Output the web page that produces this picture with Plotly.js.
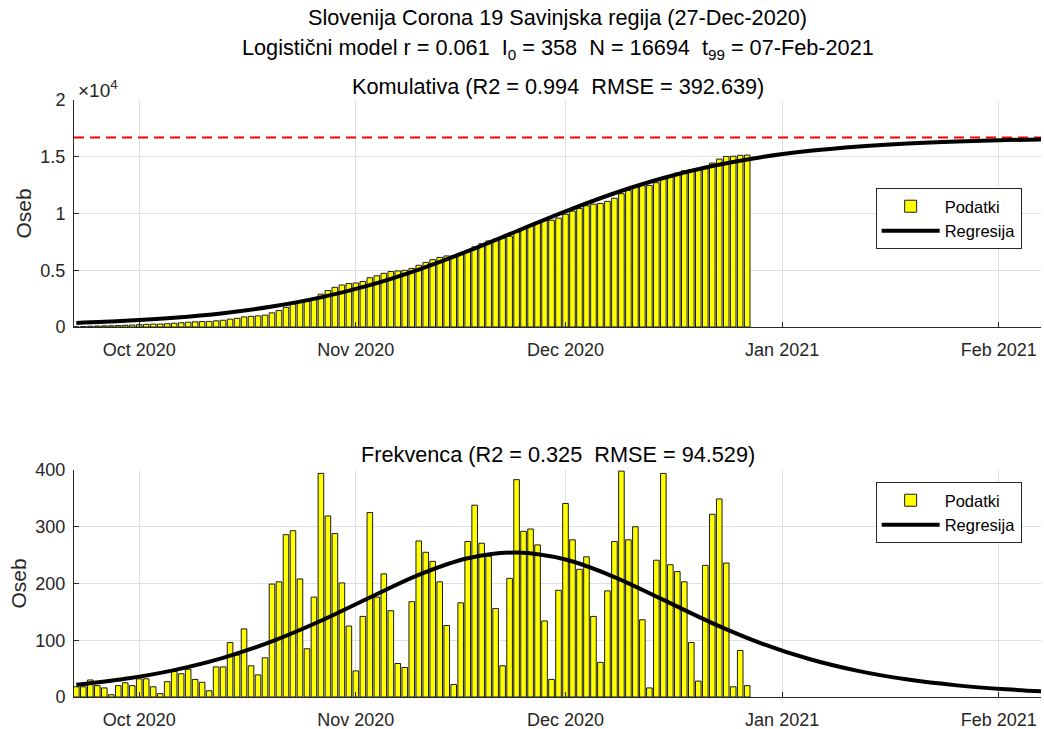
<!DOCTYPE html>
<html>
<head>
<meta charset="utf-8">
<script src="https://cdn.plot.ly/plotly-3.0.1.min.js"></script>
<style>
html,body{margin:0;padding:0;background:#fff;}
#chart{width:1044px;height:729px;}
</style>
</head>
<body>
<div id="chart"></div>
<script>
// ---------- DATA ----------
const startDate = '2020-09-22';
// daily new cases (Frekvenca), Sep 22 .. Dec 27 2020
const dailyCases = [
  18,18,30,20,16,4,20,25,20,32,32,18,6,27,45,41,49,31,26,11,53,53,96,74,
  120,55,39,69,199,203,286,293,208,85,176,394,319,288,201,125,46,142,325,176,217,152,59,52,168,
  275,255,239,203,126,22,166,274,338,271,248,156,55,209,383,292,296,268,134,31,188,341,277,225,
  247,142,61,187,274,398,277,300,136,16,241,394,233,221,203,96,28,232,322,349,236,18,82,20
];
// cumulative cases (Komulativa), Sep 22 .. Dec 27 2020
const cumulativeCases = [
  18,36,66,86,102,106,126,151,171,203,235,253,259,286,331,372,421,452,478,489,542,595,691,765,
  885,940,979,1048,1247,1450,1736,2029,2237,2322,2498,2892,3211,3499,3700,3825,3871,4013,4338,4514,4731,4883,4942,4994,5162,
  5437,5692,5931,6134,6260,6282,6448,6722,7060,7331,7579,7735,7790,7999,8382,8674,8970,9238,9372,9403,9591,9932,10209,10434,
  10681,10823,10884,11071,11345,11743,12020,12320,12456,12472,12713,13107,13340,13561,13764,13860,13888,14120,14442,14791,15027,15045,15127,15147
];
// regression curve samples (read at weekly dates)
const regDates = ['2020-09-22','2020-09-29','2020-10-06','2020-10-13','2020-10-20','2020-10-27',
  '2020-11-03','2020-11-10','2020-11-17','2020-11-24','2020-12-01','2020-12-08','2020-12-15',
  '2020-12-22','2020-12-29','2021-01-05','2021-01-12','2021-01-19','2021-01-26','2021-02-02','2021-02-09'];
const regCumulative = [358,543,817,1221,1801,2610,3692,5062,6679,8438,10189,11785,13126,14179,14963,15522,15910,16174,16351,16469,16546];
const regDaily = [21.4,32.0,47.4,69.0,98.0,134.3,175.4,215.2,244.4,254.6,242.2,211.4,171.1,130.3,94.7,66.5,45.6,30.7,20.5,13.6,8.9];
const N = 16694;
const monthTicks = ['2020-10-01','2020-11-01','2020-12-01','2021-01-01','2021-02-01'];
const monthLabels = ['Oct 2020','Nov 2020','Dec 2020','Jan 2021','Feb 2021'];
const cumTickVals = [0,5000,10000,15000,20000];
const cumTickText = ['0','0.5','1','1.5','2'];
const dailyTickVals = [0,100,200,300,400];
const xRange = ['2020-09-21 16:00','2021-02-07 01:00'];
const seriesNames = ['Podatki','Regresija'];

// ---------- BUILD ----------
function addDays(iso, n){
  const d = new Date(iso + 'T00:00:00Z');
  d.setUTCDate(d.getUTCDate() + n);
  return d.toISOString().slice(0,10);
}
const dates = dailyCases.map((_, i) => addDays(startDate, i));
const DAY = 86400000;
const FONT = 'Liberation Sans, Arial, Helvetica, sans-serif';
const AX = '#262626';
const TSIZE = 21.7;

const barStyle = {color:'#ffff00', line:{color:'#1a1a1a', width:1}};

const traces = [
  {type:'bar', x:dates, y:cumulativeCases, width:0.8*DAY, marker:barStyle,
   name:seriesNames[0], xaxis:'x', yaxis:'y', legend:'legend', hoverinfo:'skip'},
  {type:'scatter', mode:'lines', x:xRange, y:[N,N], line:{color:'#ff0000', width:2, dash:'10px,6px'},
   showlegend:false, xaxis:'x', yaxis:'y', hoverinfo:'skip'},
  {type:'scatter', mode:'lines', x:regDates, y:regCumulative, line:{color:'#000', width:4, shape:'spline'},
   name:seriesNames[1], xaxis:'x', yaxis:'y', legend:'legend', hoverinfo:'skip'},
  {type:'bar', x:dates, y:dailyCases, width:0.8*DAY, marker:barStyle,
   name:seriesNames[0], xaxis:'x2', yaxis:'y2', legend:'legend2', hoverinfo:'skip'},
  {type:'scatter', mode:'lines', x:regDates, y:regDaily, line:{color:'#000', width:4, shape:'spline'},
   name:seriesNames[1], xaxis:'x2', yaxis:'y2', legend:'legend2', hoverinfo:'skip'}
];

const xCommon = {
  type:'date', range:xRange, tickvals:monthTicks, ticktext:monthLabels,
  showline:true, linecolor:AX, linewidth:1, ticks:'inside', ticklen:5, tickcolor:AX,
  showgrid:true, gridcolor:'#e0e0e0', zeroline:false, ticklabelstandoff:6,
  tickfont:{family:FONT, size:18, color:AX}, fixedrange:true
};
const yCommon = {
  showline:true, linecolor:AX, linewidth:1, ticks:'inside', ticklen:5, tickcolor:AX,
  showgrid:true, gridcolor:'#e0e0e0', zeroline:false, ticklabelstandoff:4,
  tickfont:{family:FONT, size:18, color:AX}, fixedrange:true,
  title:{text:'Oseb', font:{family:FONT, size:21, color:AX}, standoff:3}
};

function py(px){ return (697 - px)/597; }

const legendCommon = {
  xanchor:'right', yanchor:'top', x:0.980, bgcolor:'#ffffff', bordercolor:AX, borderwidth:1,
  font:{family:FONT, size:16.5, color:'#000'}, itemwidth:58, tracegroupgap:0
};

const layout = {
  width:1044, height:729,
  margin:{l:74, r:3, t:100, b:32},
  paper_bgcolor:'#ffffff', plot_bgcolor:'#ffffff',
  barmode:'overlay', bargap:0,
  font:{family:FONT, color:'#000'},
  showlegend:true,
  xaxis: Object.assign({}, xCommon, {anchor:'y'}),
  yaxis: Object.assign({}, yCommon, {domain:[py(327),1], range:[0,20000], tickvals:cumTickVals, ticktext:cumTickText, anchor:'x'}),
  xaxis2: Object.assign({}, xCommon, {anchor:'y2'}),
  yaxis2: Object.assign({}, yCommon, {domain:[0,py(470)], range:[0,400], tickvals:dailyTickVals, anchor:'x2'}),
  legend: Object.assign({}, legendCommon, {y:py(188)}),
  legend2: Object.assign({}, legendCommon, {y:py(482)}),
  annotations:[
    {text:'Slovenija Corona 19 Savinjska regija (27-Dec-2020)', xref:'paper', yref:'paper', x:0.5, y:py(18),
     xanchor:'center', yanchor:'middle', showarrow:false, font:{family:FONT, size:TSIZE, color:'#000'}},
    {text:'Logistični model r = 0.061\u00A0\u00A0I<sub>0</sub> = 358\u00A0\u00A0N = 16694\u00A0\u00A0t<sub>99</sub> = 07-Feb-2021',
     xref:'paper', yref:'paper', x:0.5, y:py(49), xanchor:'center', yanchor:'middle', showarrow:false,
     font:{family:FONT, size:TSIZE, color:'#000'}},
    {text:'Komulativa (R2 = 0.994\u00A0\u00A0RMSE = 392.639)', xref:'paper', yref:'paper', x:0.5, y:py(86),
     xanchor:'center', yanchor:'middle', showarrow:false, font:{family:FONT, size:TSIZE, color:'#000'}},
    {text:'Frekvenca (R2 = 0.325\u00A0\u00A0RMSE = 94.529)', xref:'paper', yref:'paper', x:0.5, y:py(455),
     xanchor:'center', yanchor:'middle', showarrow:false, font:{family:FONT, size:TSIZE, color:'#000'}},
    {text:'\u00D710<sup>4</sup>', xref:'paper', yref:'paper', x:0.002, y:py(89),
     xanchor:'left', yanchor:'middle', showarrow:false, font:{family:FONT, size:19, color:AX}}
  ]
};

Plotly.newPlot('chart', traces, layout, {displayModeBar:false, staticPlot:true});
</script>
</body>
</html>
